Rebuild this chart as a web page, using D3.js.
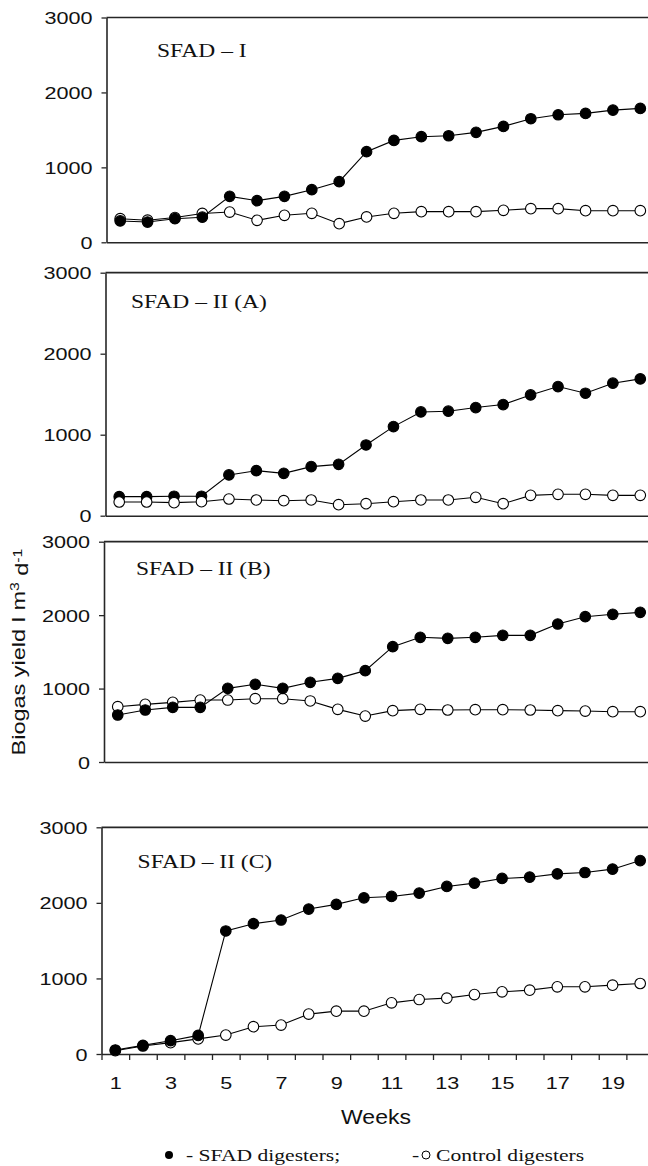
<!DOCTYPE html>
<html>
<head>
<meta charset="utf-8">
<script src="https://cdn.jsdelivr.net/npm/d3@7"></script>
<style>
  html, body { margin: 0; padding: 0; background: #fff; }
  svg { display: block; }
</style>
</head>
<body>
<svg id="chart" width="648" height="1166"></svg>
<script>
// ---------------- data ----------------
const weeks = [1,2,3,4,5,6,7,8,9,10,11,12,13,14,15,16,17,18,19,20];
const weekTickLabels = [1,3,5,7,9,11,13,15,17,19];
const yTickValues = [0,1000,2000,3000];
const panelTitles = ["SFAD \u2013 I", "SFAD \u2013 II (A)", "SFAD \u2013 II (B)", "SFAD \u2013 II (C)"];

const sfadI   = [285,270,315,335,613,556,613,702,809,1209,1360,1409,1422,1467,1547,1649,1702,1720,1764,1787];
const ctrlI   = [315,295,330,385,404,293,360,387,249,338,387,409,409,409,427,449,449,422,422,422];
const sfadIIA = [235,235,240,240,503,556,523,606,634,873,1100,1281,1290,1335,1372,1491,1594,1512,1636,1689];
const ctrlIIA = [169,169,161,173,206,194,185,194,136,148,173,194,194,227,148,251,264,264,251,251];
const sfadIIB = [640,708,744,744,1003,1058,1003,1085,1139,1244,1570,1698,1684,1698,1725,1725,1879,1979,2011,2038];
const ctrlIIB = [753,785,812,844,844,862,862,831,717,626,699,717,708,712,712,708,699,694,685,685];
const sfadIIC = [53,114,176,246,1628,1724,1773,1918,1980,2067,2085,2129,2217,2261,2323,2340,2384,2402,2446,2560];
const ctrlIIC = [44,106,150,200,251,361,383,528,567,567,677,721,739,787,823,845,889,889,911,933];

const sfadSeries = [sfadI, sfadIIA, sfadIIB, sfadIIC];
const ctrlSeries = [ctrlI, ctrlIIA, ctrlIIB, ctrlIIC];

// ---------------- layout ----------------
const panels = [
  {left:106.5, top:17.5,  bottom:242.3, titleX:157, titleY:57,  openOnTop:false},
  {left:105.5, top:272.7, bottom:515.7, titleX:131, titleY:308, openOnTop:true},
  {left:104,   top:541.7, bottom:762,   titleX:136, titleY:575, openOnTop:false},
  {left:101.5, top:827.3, bottom:1054,  titleX:137.6, titleY:868, openOnTop:false}
];
const rightEdge = 654;
const SX = 1.27;          // horizontal widening of the original lettering
const sansFont = "'Liberation Sans', Arial, sans-serif";
const serifFont = "'Liberation Serif', 'Times New Roman', serif";
const axisColor = "#262626";

const svg = d3.select("#chart");

panels.forEach((p, i) => {
  const g = svg.append("g");
  const x = d3.scaleLinear().domain([0.5, 20.5]).range([p.left, rightEdge]);
  const y = d3.scaleLinear().domain([0, 3000]).range([p.bottom, p.top]);

  // top & right frame
  g.append("line").attr("x1", p.left).attr("x2", rightEdge).attr("y1", p.top).attr("y2", p.top)
    .attr("stroke", axisColor).attr("stroke-width", 1.7);
  g.append("line").attr("x1", rightEdge).attr("x2", rightEdge).attr("y1", p.top).attr("y2", p.bottom)
    .attr("stroke", axisColor).attr("stroke-width", 1.7);

  // y axis
  const ya = g.append("g").attr("transform", `translate(${p.left},0)`)
    .call(d3.axisLeft(y).tickValues(yTickValues).tickSize(5).tickSizeOuter(0).tickFormat(d3.format("d")));
  ya.select(".domain").attr("stroke", axisColor).attr("stroke-width", 1.6);
  ya.selectAll(".tick line").attr("stroke", axisColor).attr("stroke-width", 1.3);
  ya.selectAll(".tick text")
    .attr("x", -14 / SX).attr("dy", "0.36em")
    .attr("transform", `scale(${SX},1)`)
    .attr("fill", "#111")
    .style("font-family", sansFont).style("font-size", "17px");

  // x axis
  const xa = g.append("g").attr("transform", `translate(0,${p.bottom})`);
  if (i === 3) {
    xa.call(d3.axisBottom(x).tickValues(d3.range(0.5, 20.6, 1)).tickSize(6).tickSizeOuter(0).tickFormat(""));
    const xl = g.append("g").attr("transform", `translate(0,${p.bottom})`)
      .call(d3.axisBottom(x).tickValues(weekTickLabels).tickSize(0).tickPadding(23));
    xl.select(".domain").remove();
    xl.selectAll(".tick text")
      .attr("transform", `scale(${SX},1)`)
      .attr("fill", "#111")
      .style("font-family", sansFont).style("font-size", "17px");
  } else {
    xa.call(d3.axisBottom(x).tickValues([]).tickSizeOuter(0));
  }
  xa.select(".domain").attr("stroke", axisColor).attr("stroke-width", 1.6);
  xa.selectAll(".tick line").attr("stroke", axisColor).attr("stroke-width", 1.3);

  // title
  g.append("text")
    .attr("transform", `translate(${p.titleX},${p.titleY}) scale(${SX},1)`)
    .style("font-family", serifFont).style("font-size", "18.5px").attr("fill", "#111")
    .text(panelTitles[i]);

  const line = d3.line().x((d, k) => x(weeks[k])).y(d => y(d));
  const drawSeries = (vals, filled) => {
    const sg = g.append("g");
    sg.append("path").datum(vals).attr("d", line)
      .attr("fill", "none").attr("stroke", "#000").attr("stroke-width", 1.1);
    sg.selectAll("circle").data(vals).join("circle")
      .attr("cx", (d, k) => x(weeks[k])).attr("cy", d => y(d)).attr("r", 5.3)
      .attr("fill", filled ? "#000" : "#fff").attr("stroke", "#000").attr("stroke-width", 1.1);
  };
  if (p.openOnTop) { drawSeries(sfadSeries[i], true); drawSeries(ctrlSeries[i], false); }
  else { drawSeries(ctrlSeries[i], false); drawSeries(sfadSeries[i], true); }
});

// y axis title
svg.append("text")
  .attr("transform", `translate(25,652) rotate(-90) scale(${SX},1)`)
  .attr("text-anchor", "middle")
  .style("font-family", sansFont).style("font-size", "18.5px").attr("fill", "#111")
  .call(t => {
    t.append("tspan").text("Biogas yield l m");
    t.append("tspan").attr("dy", "-0.45em").style("font-size", "12.5px").text("3");
    t.append("tspan").attr("dy", "0.45em").text(" d");
    t.append("tspan").attr("dy", "-0.45em").style("font-size", "12.5px").text("-1");
  });

// x axis title
svg.append("text")
  .attr("transform", `translate(376,1124) scale(1.15,1)`)
  .attr("text-anchor", "middle")
  .style("font-family", sansFont).style("font-size", "20px").attr("fill", "#111")
  .text("Weeks");

// legend
const legend = svg.append("g");
legend.append("circle").attr("cx", 169).attr("cy", 1155).attr("r", 4).attr("fill", "#000");
legend.append("text")
  .attr("transform", `translate(186,1161) scale(${SX},1)`)
  .style("font-family", serifFont).style("font-size", "17px").attr("fill", "#111")
  .text("- SFAD digesters;");
legend.append("text")
  .attr("transform", `translate(412,1161) scale(${SX},1)`)
  .style("font-family", serifFont).style("font-size", "17px").attr("fill", "#111")
  .text("-");
legend.append("circle").attr("cx", 426).attr("cy", 1155).attr("r", 4)
  .attr("fill", "#fff").attr("stroke", "#000").attr("stroke-width", 1);
legend.append("text")
  .attr("transform", `translate(436,1161) scale(${SX},1)`)
  .style("font-family", serifFont).style("font-size", "17px").attr("fill", "#111")
  .text("Control digesters");
</script>
</body>
</html>
